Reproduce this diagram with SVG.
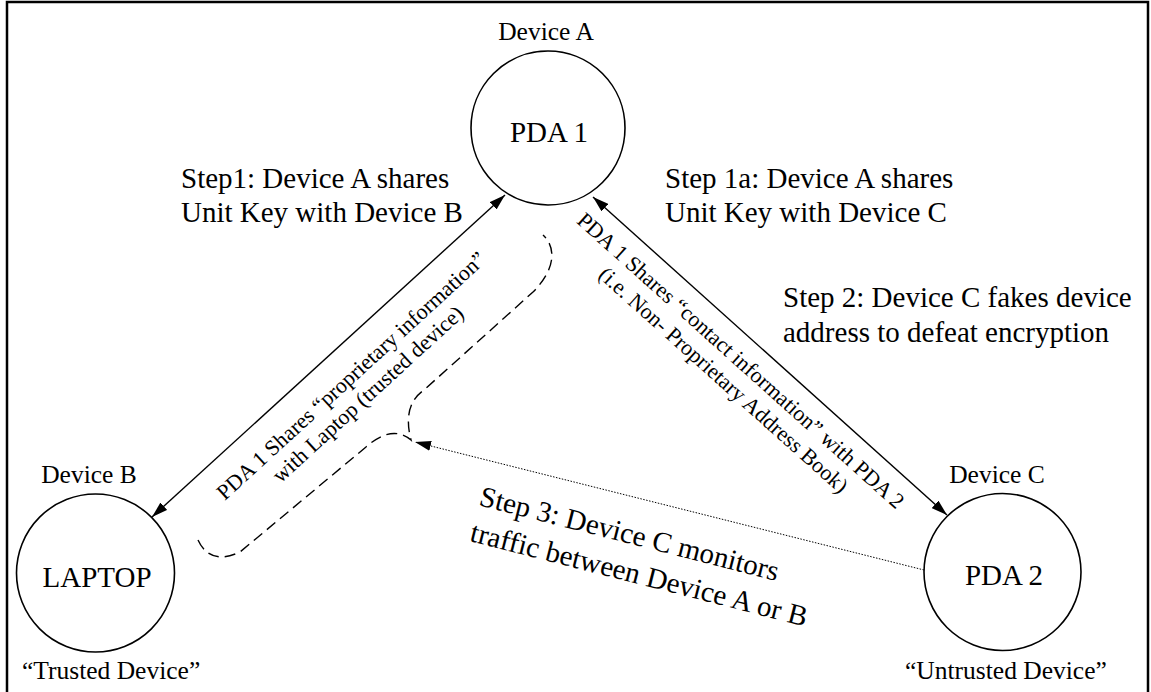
<svg xmlns="http://www.w3.org/2000/svg" width="1151" height="692" viewBox="0 0 1151 692">
<style>
.t{font-family:"Liberation Serif","Times New Roman",serif;fill:#000}
.dev{font-size:25.5px}
.node{font-size:29px}
.step{font-size:29px}
.lab{font-size:22px}
.circ{fill:#fff;stroke:#000;stroke-width:1.6}
.solid{fill:none;stroke:#000;stroke-width:1.4}
</style>
<defs>
<marker id="ah" viewBox="0 0 16 10" refX="16" refY="5" markerWidth="16" markerHeight="10" markerUnits="userSpaceOnUse" orient="auto-start-reverse">
<path d="M0,0 L16,5 L0,10 z" fill="#000"/>
</marker>
</defs>
<rect width="1151" height="692" fill="#fff"/>
<path d="M7,692 V2 H1148 V692" fill="none" stroke="#000" stroke-width="2.5"/>

<g id="connectors">
<line class="solid" x1="505" y1="195" x2="152" y2="517" marker-start="url(#ah)" marker-end="url(#ah)"/>
<line class="solid" x1="593" y1="197" x2="947" y2="515" marker-start="url(#ah)" marker-end="url(#ah)"/>
<line x1="924" y1="570" x2="415" y2="442" stroke="#000" stroke-width="1" stroke-dasharray="1.5 1.5" marker-end="url(#ah)"/>
<path d="M198,540 Q210,566 240,552 L366,447 Q392,424 411,440 Q402,405 424,390 L533,292 C555,270 557,248 543,235" fill="none" stroke="#000" stroke-width="1.4" stroke-dasharray="11 6"/>
<g transform="translate(356,381) rotate(-42.4)">
<text class="t lab" x="0" y="0" text-anchor="middle">PDA 1 Shares “proprietary information”</text>
<text class="t lab" x="0" y="25" text-anchor="middle">with Laptop (trusted device)</text>
</g>
<g transform="translate(736,366) rotate(41.9)">
<text class="t lab" x="0" y="0" text-anchor="middle">PDA 1 Shares “contact information” with PDA 2</text>
<text class="t lab" x="0" y="26" text-anchor="middle">(i.e. Non- Proprietary Address Book)</text>
</g>
</g>

<g id="nodeA">
<circle class="circ" cx="548" cy="128" r="77"/>
<text class="t node" x="549" y="142" text-anchor="middle">PDA 1</text>
<text class="t dev" x="546" y="40" text-anchor="middle">Device A</text>
</g>
<g id="nodeB">
<circle class="circ" cx="95.5" cy="573" r="79"/>
<text class="t node" x="97" y="587" text-anchor="middle">LAPTOP</text>
<text class="t dev" x="89" y="483" text-anchor="middle">Device B</text>
<text class="t dev" x="22" y="679">“Trusted Device”</text>
</g>
<g id="nodeC">
<circle class="circ" cx="1002.5" cy="572" r="78.5"/>
<text class="t node" x="1004" y="585" text-anchor="middle">PDA 2</text>
<text class="t dev" x="997" y="483" text-anchor="middle">Device C</text>
<text class="t dev" x="905" y="679">“Untrusted Device”</text>
</g>

<g id="step1">
<text class="t step" x="181" y="188">Step1: Device A shares</text>
<text class="t step" x="181" y="222">Unit Key with Device B</text>
</g>
<g id="step1a">
<text class="t step" x="665" y="188">Step 1a: Device A shares</text>
<text class="t step" x="665" y="222">Unit Key with Device C</text>
</g>
<g id="step2">
<text class="t step" x="783" y="307">Step 2: Device C fakes device</text>
<text class="t step" x="783" y="342">address to defeat encryption</text>
</g>
<g id="step3" transform="translate(478,505) rotate(14.3)">
<text class="t step" x="0" y="0" font-size="30">Step 3: Device C monitors</text>
<text class="t step" x="0" y="37" font-size="30">traffic between Device A or B</text>
</g>
</svg>
